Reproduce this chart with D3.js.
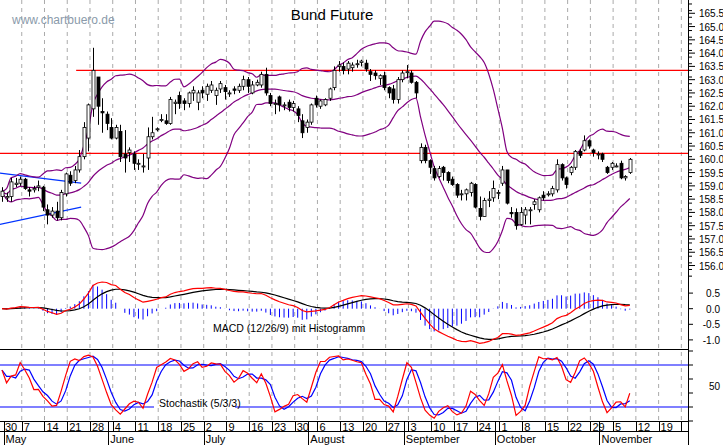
<!DOCTYPE html>
<html><head><meta charset="utf-8">
<script src="https://cdnjs.cloudflare.com/ajax/libs/d3/7.8.5/d3.min.js"></script>
<style>body{margin:0;background:#fff}svg{display:block;font-family:"Liberation Sans",Arial,sans-serif}</style>
</head><body><svg id="c" width="723" height="445"></svg>
<script>
// OHLC per trading day starting Mon 30 Apr 2018: [open, high, low, close]
const ohlc = [
[158.6,158.95,158.4,158.8],[158.55,158.75,158.4,158.6],[158.6,159.3,158.4,159.15],[159.05,159.3,158.95,159.1],[159.1,159.35,159.0,159.25],
[159.25,159.3,158.85,158.9],[158.85,158.95,158.6,158.8],[158.85,159.0,158.75,158.9],[158.95,159.2,158.8,159.0],[158.95,159.0,158.05,158.2],
[158.1,158.3,157.55,157.9],[157.9,158.2,157.8,158.05],[158.05,158.4,157.7,157.8],[157.8,158.85,157.7,158.75],[158.7,159.5,158.6,159.45],
[159.4,159.55,159.0,159.1],[159.2,159.75,159.1,159.6],[159.6,160.35,159.5,160.1],[160.1,161.4,160.0,161.2],[160.8,162.1,160.3,162.05],
[161.9,164.2,161.6,163.35],[163.1,163.1,161.3,162.0],[161.8,162.3,161.0,161.75],[161.7,161.8,161.1,161.35],[161.2,161.55,160.75,160.8],
[160.8,161.3,160.75,161.2],[161.05,161.3,159.9,160.1],[160.2,161.1,159.5,160.05],[160.25,160.45,159.9,160.35],[160.2,160.3,159.6,159.85],
[159.85,160.0,159.6,159.85],[159.75,160.2,159.5,159.75],[160.05,161.2,159.6,160.85],[160.85,161.6,160.75,161.0],[161.15,161.2,161.05,161.15],
[161.5,161.7,161.4,161.5],[161.45,161.7,161.3,161.35],[161.35,162.35,161.3,162.25],[162.1,162.25,161.7,162.15],[162.4,162.55,161.9,162.1],
[162.2,162.3,161.85,162.1],[162.1,162.55,161.95,162.5],[162.5,162.75,162.2,162.6],[162.15,162.6,161.85,162.5],[162.6,162.75,162.3,162.5],
[162.45,162.85,162.2,162.75],[162.6,162.95,162.5,162.8],[162.4,162.7,162.05,162.6],[162.65,162.95,162.5,162.85],[162.7,162.8,162.25,162.55],
[162.5,162.6,162.35,162.5],[162.65,162.75,162.45,162.6],[162.6,162.85,162.5,162.75],[162.75,163.15,162.6,163.0],[163.0,163.1,162.5,162.75],
[162.5,162.95,162.45,162.8],[162.8,163.0,162.75,162.9],[162.8,163.3,162.7,163.2],[163.2,163.45,162.4,162.5],[162.4,162.5,162.0,162.1],
[162.1,162.25,161.7,162.1],[162.35,162.4,161.8,162.05],[162.05,162.15,161.85,162.05],[162.15,162.25,161.8,161.95],[161.95,162.2,161.8,162.1],
[161.9,162.0,161.4,161.65],[161.45,161.7,160.8,161.0],[161.2,161.5,161.0,161.4],[161.4,162.1,161.3,162.05],[162.3,162.4,161.95,162.05],
[162.0,162.25,161.9,162.2],[162.05,162.3,162.0,162.25],[162.3,162.7,162.2,162.65],[162.7,163.5,162.6,163.35],[163.5,163.7,163.3,163.55],
[163.5,163.65,163.2,163.35],[163.4,163.7,163.2,163.62],[163.45,163.65,163.3,163.55],[163.6,163.75,163.45,163.6],[163.65,163.75,163.5,163.7],
[163.62,163.75,163.3,163.4],[163.3,163.4,162.95,163.2],[163.25,163.35,163.0,163.15],[163.05,163.2,162.8,163.15],[163.15,163.3,162.6,162.7],
[162.7,162.75,162.3,162.5],[162.65,162.8,162.1,162.25],[162.25,163.1,162.1,163.0],[163.0,163.35,162.9,163.25],[163.3,163.55,163.05,163.3],
[163.25,163.35,162.85,162.9],[162.9,162.95,162.3,162.5],[159.95,160.6,159.85,160.45],[160.45,160.55,159.85,159.95],[159.95,160.0,159.45,159.7],
[159.65,159.75,159.2,159.3],[159.35,159.75,159.3,159.65],[159.7,159.75,159.2,159.5],[159.5,159.55,159.1,159.2],[159.25,159.35,159.0,159.05],
[159.05,159.1,158.55,158.65],[158.7,158.85,158.45,158.7],[158.7,158.9,158.45,158.85],[158.75,159.15,158.6,159.1],[159.05,159.1,158.15,158.2],
[158.15,158.6,157.7,157.85],[157.85,158.55,157.85,158.45],[158.45,158.8,158.2,158.5],[158.55,159.2,158.4,158.9],[158.75,158.85,158.5,158.75],
[159.1,159.75,159.0,159.6],[159.6,159.6,158.3,158.35],[158.0,158.2,157.8,157.95],[158.0,158.15,157.35,157.5],[157.55,158.2,157.5,158.0],
[157.9,158.2,157.55,158.1],[158.1,158.2,157.55,158.1],[158.3,158.5,158.1,158.4],[158.1,158.6,158.0,158.55],[158.65,158.8,158.45,158.55],
[158.7,158.8,158.6,158.7],[158.7,159.0,158.6,158.9],[158.85,160.0,158.75,159.8],[159.8,159.85,159.2,159.3],[159.3,159.35,158.9,159.05],
[159.5,159.75,159.4,159.7],[159.7,160.35,159.6,160.3],[160.3,160.4,160.05,160.15],[160.35,160.9,160.3,160.7],[160.7,160.75,160.4,160.5],
[160.35,160.4,160.1,160.25],[160.2,160.3,160.0,160.2],[160.2,160.25,159.9,160.0],[159.7,159.75,159.45,159.5],[159.7,159.9,159.6,159.85],
[159.75,159.85,159.7,159.75],[159.85,159.95,159.25,159.3],[159.3,159.4,159.2,159.35],[159.5,160.05,159.45,160.0]
];
const weekLabels = ["30","7","14","21","28","4","11","18","25","2","9","16","23","30","6","13","20","27","3","10","17","24","1","8","15","22","29","5","12","19"];
const months = [["May",1],["June",24],["July",45],["August",68],["September",89],["October",109],["November",132]]; // [name, first trading-day index]
const resistance = [163.35, 160.22];
const resistanceStart = [16.3, -0.5];
const channelUpper = [[-0.5,159.48],[17.4,159.1]];
const channelLower = [[-0.5,157.55],[17.4,158.2]];
const priceTicks = d3.range(156,165.51,0.5);
const macdTicks = [0.5,0,-0.5,-1.0];

const svg = d3.select("#c");
const R = 688;
const x = d3.scaleLinear().domain([-0.44,150.8]).range([0,R]);
const yP = d3.scaleLinear().domain([155.5,166]).range([278.8,0]);
const yM = d3.scaleLinear().domain([-1.5,1]).range([355.5,277.5]);
const yS = d3.scaleLinear().domain([0,100]).range([421,351]);

const closes = ohlc.map(d=>d[3]);
// Bollinger 20,2
const bb = closes.map((c,i)=>{const w=closes.slice(Math.max(0,i-19),i+1);const m=d3.mean(w);const s=Math.sqrt(d3.mean(w,v=>(v-m)**2));return {i,m,u:m+2*s,l:m-2*s};});
// MACD 12/26/9
function ema(arr,n){const k=2/(n+1);let e=arr[0];return arr.map(v=>e=v*k+e*(1-k));}
const e12=ema(closes,12), e26=ema(closes,26);
const macd=closes.map((c,i)=>e12[i]-e26[i]);
const sig=ema(macd,9);
// Stochastic 5/3/3
const rawK=ohlc.map((d,i)=>{const w=ohlc.slice(Math.max(0,i-4),i+1);const hh=d3.max(w,v=>v[1]),ll=d3.min(w,v=>v[2]);return hh===ll?50:100*(d[3]-ll)/(hh-ll);});
const sma=(a,n)=>a.map((v,i)=>d3.mean(a.slice(Math.max(0,i-n+1),i+1)));
const kS=sma(rawK,3), dS=sma(kS,3);

// grid
const weeks=d3.range(0,31).map(k=>5*k-0.66);
svg.append("g").selectAll("line").data(weeks).join("line")
 .attr("x1",d=>x(d)).attr("x2",d=>x(d)).attr("y1",0).attr("y2",421)
 .attr("stroke","#aaa").attr("stroke-dasharray","4,4");

// resistance
svg.append("g").selectAll("line").data(resistance).join("line")
 .attr("x1",(d,i)=>x(resistanceStart[i])).attr("x2",R).attr("y1",d=>yP(d)).attr("y2",d=>yP(d))
 .attr("stroke","#f00").attr("stroke-width",1.2);
// channel
[channelUpper,channelLower].forEach(c=>svg.append("path").attr("d",d3.line().x(d=>x(d[0])).y(d=>yP(d[1]))(c)).attr("stroke","#0033ff").attr("stroke-width",1.2).attr("fill","none"));
// bollinger
const bcol="#800080";
["u","m","l"].forEach(k=>svg.append("path").attr("d",d3.line().x(d=>x(d.i)).y(d=>yP(d[k])).curve(d3.curveMonotoneX)(bb)).attr("stroke",bcol).attr("stroke-width",1.2).attr("fill","none"));
// candles
const cg=svg.append("g");
ohlc.forEach((d,i)=>{
 const cx=Math.round(x(i))+0.5;
 cg.append("line").attr("x1",cx).attr("x2",cx).attr("y1",yP(d[1])).attr("y2",yP(d[2])).attr("stroke","#000");
 const top=yP(Math.max(d[0],d[3])), bot=yP(Math.min(d[0],d[3]));
 cg.append("rect").attr("x",cx-1.5).attr("y",top).attr("width",3).attr("height",Math.max(1,bot-top))
  .attr("fill",d[3]>=d[0]?"#fff":"#000").attr("stroke","#000").attr("stroke-width",0.8);
});
// MACD
svg.append("g").selectAll("line").data(macd).join("line")
 .attr("x1",(d,i)=>x(i)).attr("x2",(d,i)=>x(i)).attr("y1",yM(0)).attr("y2",(d,i)=>yM((d-sig[i])*1.6))
 .attr("stroke","#0000ff").attr("stroke-width",1);
svg.append("path").attr("d",d3.line().x((d,i)=>x(i)).y(d=>yM(d))(sig)).attr("stroke","#000").attr("fill","none").attr("stroke-width",1.2);
svg.append("path").attr("d",d3.line().x((d,i)=>x(i)).y(d=>yM(d))(macd)).attr("stroke","#f00").attr("fill","none").attr("stroke-width",1.2);
svg.append("text").attr("x",213).attr("y",332).attr("font-size",10.5).text("MACD (12/26/9) mit Histogramm");
svg.append("line").attr("x1",0).attr("x2",R).attr("y1",349.5).attr("y2",349.5).attr("stroke","#000");
// Stoch
svg.append("line").attr("x1",0).attr("x2",R).attr("y1",yS(80)).attr("y2",yS(80)).attr("stroke","#0000ff").attr("stroke-width",1.2);
svg.append("line").attr("x1",0).attr("x2",154).attr("y1",yS(20)).attr("y2",yS(20)).attr("stroke","#0000ff").attr("stroke-width",1.2);
svg.append("line").attr("x1",235).attr("x2",R).attr("y1",yS(20)).attr("y2",yS(20)).attr("stroke","#0000ff").attr("stroke-width",1.2);
svg.append("text").attr("x",159).attr("y",407).attr("font-size",10.5).text("Stochastik (5/3/3)");
svg.append("path").attr("d",d3.line().x((d,i)=>x(i)).y(d=>yS(d))(dS)).attr("stroke","#0000ff").attr("fill","none").attr("stroke-width",1.2);
svg.append("path").attr("d",d3.line().x((d,i)=>x(i)).y(d=>yS(d))(kS)).attr("stroke","#f00").attr("fill","none").attr("stroke-width",1.2);

// date axis
svg.append("rect").attr("x",0).attr("y",421.5).attr("width",723).attr("height",24).attr("fill","#fff");
svg.append("line").attr("x1",0).attr("x2",R).attr("y1",421.5).attr("y2",421.5).attr("stroke","#000");
svg.append("line").attr("x1",0).attr("x2",R).attr("y1",431.5).attr("y2",431.5).attr("stroke","#000");
svg.append("g").selectAll("line").data(weeks.slice(0,31)).join("line")
 .attr("x1",d=>Math.round(x(d))+0.5).attr("x2",d=>Math.round(x(d))+0.5).attr("y1",421).attr("y2",431).attr("stroke","#000");
svg.append("g").selectAll("text").data(weekLabels).join("text")
 .attr("x",(d,i)=>Math.max(5,x(weeks[i])+2)).attr("y",430.5).attr("font-size",11).text(d=>d);
svg.append("g").selectAll("line").data(months).join("line")
 .attr("x1",d=>Math.round(x(d[1]-0.66))+0.5).attr("x2",d=>Math.round(x(d[1]-0.66))+0.5).attr("y1",421).attr("y2",445).attr("stroke","#000");
svg.append("g").selectAll("text").data(months).join("text")
 .attr("x",d=>x(d[1]-0.66)+2).attr("y",443).attr("font-size",11).text(d=>d[0]);

// right axis
const ax=svg.append("g");
ax.append("line").attr("x1",R+0.5).attr("x2",R+0.5).attr("y1",0).attr("y2",445).attr("stroke","#000");
d3.range(155.6,166,0.25).forEach(v=>ax.append("line").attr("x1",R).attr("x2",R+4).attr("y1",yP(v)).attr("y2",yP(v)).attr("stroke","#000"));
priceTicks.forEach(v=>{ax.append("line").attr("x1",R).attr("x2",R+7).attr("y1",yP(v)).attr("y2",yP(v)).attr("stroke","#000");
 ax.append("text").attr("x",699).attr("y",yP(v)+4).attr("font-size",10).text(v.toFixed(1));});
macdTicks.forEach(v=>{ax.append("line").attr("x1",R).attr("x2",R+5).attr("y1",yM(v)).attr("y2",yM(v)).attr("stroke","#000");
 ax.append("text").attr("x",720).attr("y",yM(v)+4).attr("font-size",10).attr("text-anchor","end").text(v.toFixed(1));});
[0,20,40,60,80,100].forEach(v=>ax.append("line").attr("x1",R).attr("x2",R+5).attr("y1",yS(v)).attr("y2",yS(v)).attr("stroke","#000"));
ax.append("text").attr("x",720).attr("y",yS(50)+4).attr("font-size",10).attr("text-anchor","end").text("50");

svg.append("text").attr("x",12).attr("y",24).attr("font-size",12).attr("fill","#8a9aaa").text("www.chartbuero.de");
svg.append("text").attr("x",332).attr("y",20).attr("font-size",15).attr("text-anchor","middle").text("Bund Future");
</script></body></html>
